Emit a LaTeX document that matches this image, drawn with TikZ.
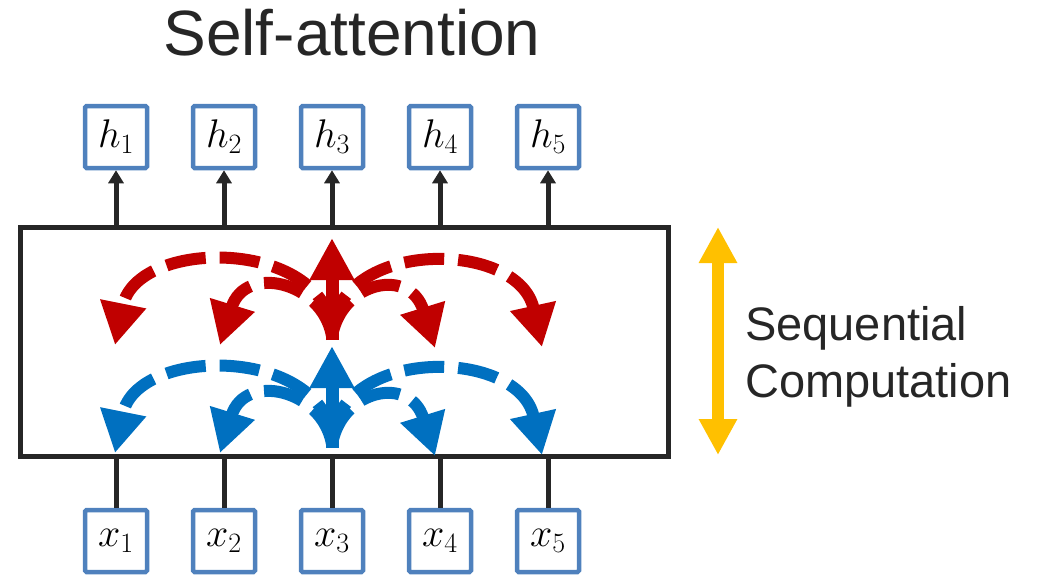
\documentclass[tikz,border=0pt]{standalone}
\usepackage{fix-cm}
\usepackage{fontspec}
\setmainfont{Liberation Sans}
\usetikzlibrary{arrows.meta}
\definecolor{boxblue}{HTML}{4F81BD}
\definecolor{attred}{HTML}{C00000}
\definecolor{attblue}{HTML}{0070C0}
\definecolor{seqgold}{HTML}{FFC000}
\definecolor{ink}{HTML}{262626}

\begin{document}
\begin{tikzpicture}[x=1pt,y=-1pt,
  vecbox/.style={draw=boxblue, line width=4.5pt, rounded corners=1.5pt,
    minimum size=62pt, inner sep=0pt, fill=white,
    font=\fontsize{40}{40}\selectfont},
  layerbox/.style={draw=ink, line width=5pt, minimum width=648pt,
    minimum height=229pt, inner sep=0pt},
  link/.style={draw=ink, line width=5pt},
  outlink/.style={link, -{Triangle[width=15pt,length=13pt]}},
  attn/.style={line width=12pt, dash pattern=on 40pt off 14pt,
    -{Triangle[width=44pt,length=42pt]}},
  selfup/.style={line width=13pt, -{Triangle[width=42pt,length=42pt]}},
  label/.style={text=ink, inner sep=0pt}]

\useasboundingbox (0,0) rectangle (1040,576);

% title
\node[label, anchor=base, font=\fontsize{64}{64}\selectfont] (title) at (352,55) {Self-attention};

% the layer
\node[layerbox] (layer) at (344,341.5) {};

% inputs and outputs
\foreach \i/\x in {1/116,2/224,3/332,4/440,5/548}{
  \node[vecbox] (h\i) at (\x,137) {$h_{\i}$};
  \node[vecbox] (x\i) at (\x,541) {$x_{\i}$};
  \draw[outlink] (h\i |- layer.north) -- (h\i.south);
  \draw[link] (x\i.north) -- (x\i |- layer.south);
}

% attention from the middle position, in two rounds
% (the last control point lies on the line of the tip's direction)
\foreach \c/\dy in {attred/0, attblue/108}{
  \draw[attn, draw=\c] (332,332+\dy) .. controls (325,238+\dy) and (136.5,237+\dy) .. (115,345+\dy);
  \draw[attn, draw=\c] (332,336+\dy) .. controls (322,281+\dy) and (245,264+\dy) .. (220,345+\dy);
  \draw[attn, draw=\c] (332,336+\dy) .. controls (342,281+\dy) and (410,267+\dy) .. (435,348+\dy);
  \draw[attn, draw=\c] (332,332+\dy) .. controls (339,238+\dy) and (518.4,239.5+\dy) .. (542,347+\dy);
  \draw[selfup, draw=\c] (332,340+\dy) -- (332,238+\dy);
}

% sequential direction
\coordinate (seqtop) at (718,227);
\coordinate (seqbot) at (718,455);
\draw[line width=12pt, draw=seqgold,
  {Triangle[width=36pt,length=36pt]}-{Triangle[width=36pt,length=36pt]}] (seqtop) -- (seqbot);
\node[label, anchor=base west, font=\fontsize{47}{47}\selectfont] (seq1) at (745,340) {Sequential};
\node[label, anchor=base west, font=\fontsize{47}{47}\selectfont] (seq2) at (745,397) {Computation};
\end{tikzpicture}
\end{document}
